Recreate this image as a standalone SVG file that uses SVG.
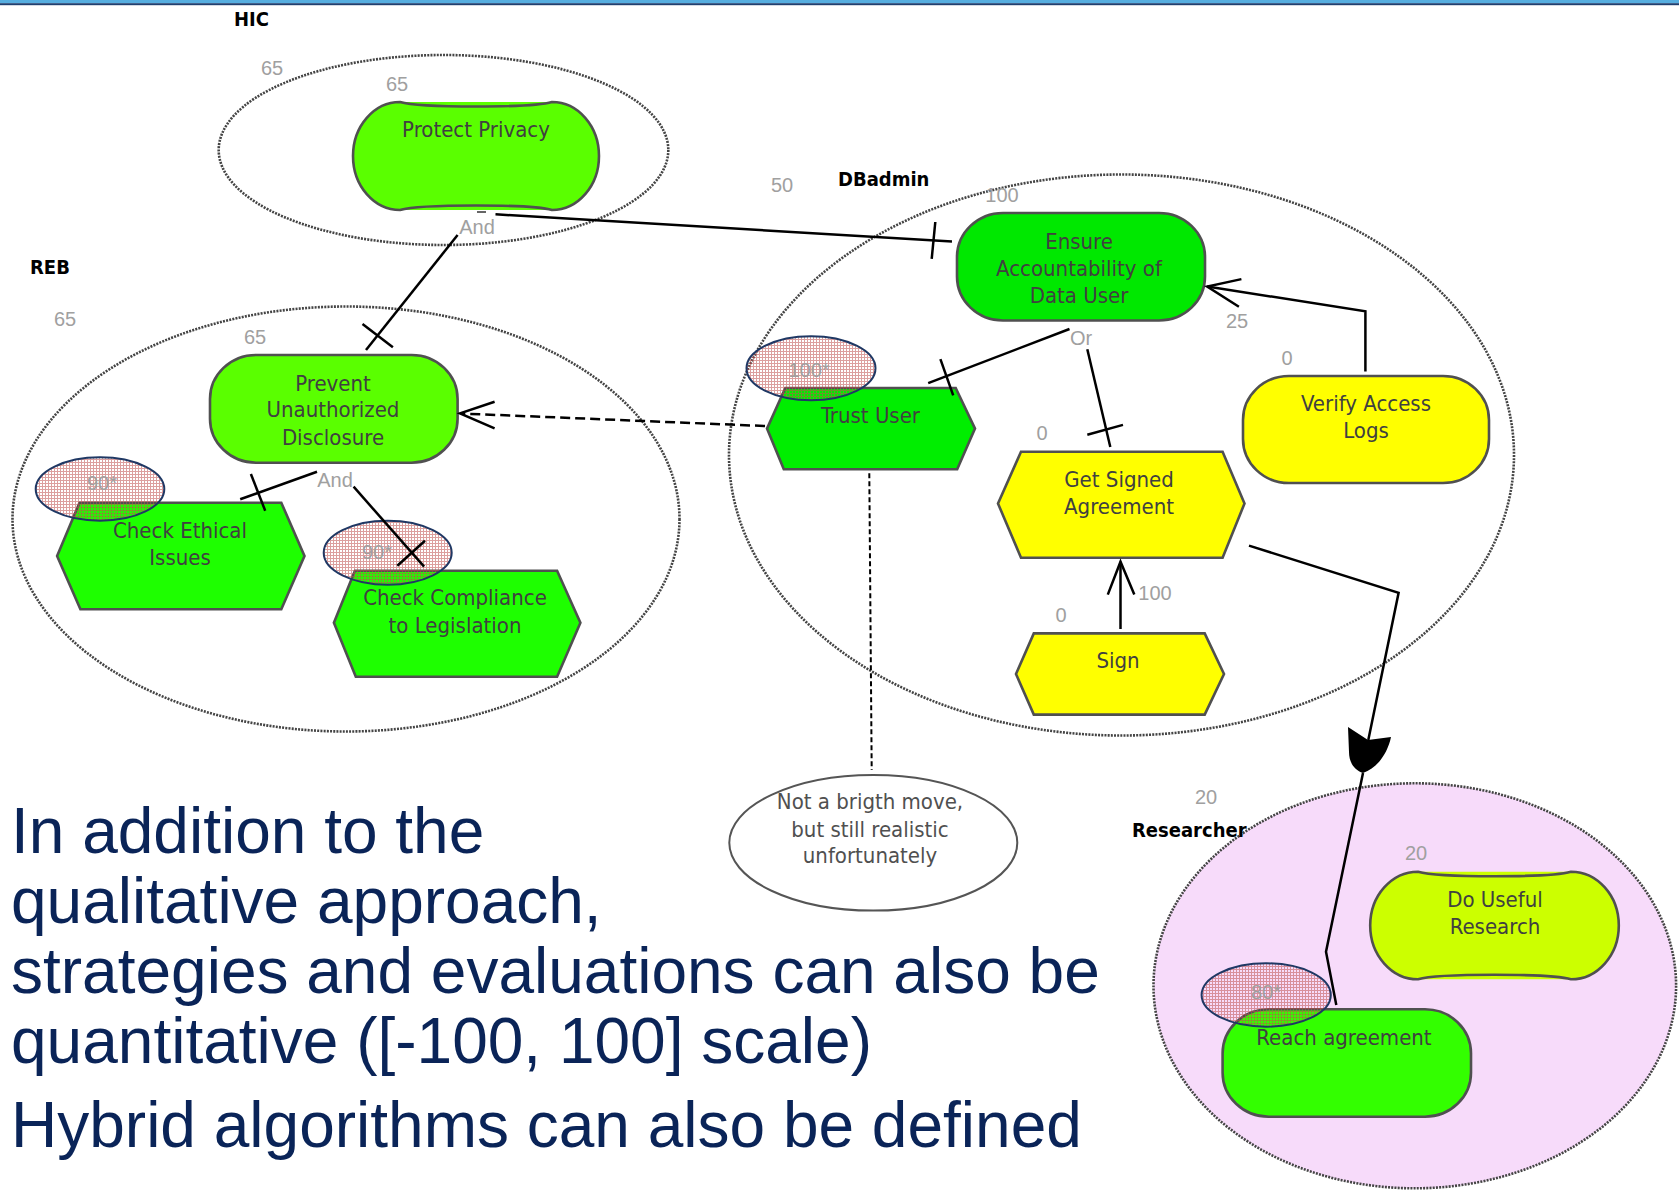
<svg xmlns="http://www.w3.org/2000/svg" width="1679" height="1191" viewBox="0 0 1679 1191">
<defs>
<style>
.num{font-family:'Liberation Sans',Arial,sans-serif;font-size:20px;fill:#a0a0a0;text-anchor:middle}
.lbl{font-family:'DejaVu Sans Condensed','Liberation Sans',Arial,sans-serif;font-stretch:condensed;font-size:22px;fill:#404040;text-anchor:middle}
.note{font-family:'DejaVu Sans Condensed','Liberation Sans',Arial,sans-serif;font-stretch:condensed;font-size:22px;fill:#505050;text-anchor:middle}
.actor{font-family:'DejaVu Sans Condensed','Liberation Sans',Arial,sans-serif;font-stretch:condensed;font-size:20px;font-weight:bold;fill:#000}
.big{font-family:'Liberation Sans',Arial,sans-serif;font-size:64px;fill:#0a2458}
.bound{fill:none;stroke:#444;stroke-width:2.6;stroke-dasharray:2 1.2}
.node{stroke:#505050;stroke-width:2.6}
.link{fill:none;stroke:#000;stroke-width:2.5}
.dash{fill:none;stroke:#000;stroke-width:2.5;stroke-dasharray:10 5}
.eval{fill:url(#hatch);stroke:#1f3864;stroke-width:2}
</style>
<pattern id="hatch" patternUnits="userSpaceOnUse" width="3" height="3">
<path d="M0,0.5H3M0.5,0V3" stroke="#c0504d" stroke-width="1" opacity="0.55"/>
</pattern>
</defs>
<rect x="0" y="0" width="1679" height="1191" fill="#fff"/>
<rect x="0" y="0" width="1679" height="3.2" fill="#56aee0"/>
<rect x="0" y="3.2" width="1679" height="2" fill="#1f3f70"/>

<g id="actors">
<g id="actor-hic">
<ellipse class="bound" cx="443.5" cy="150" rx="224.8" ry="95"/>
<text class="actor" x="234" y="26">HIC</text>
<text class="num" x="272" y="75">65</text>
</g>
<g id="actor-reb">
<ellipse class="bound" cx="346" cy="519" rx="333.5" ry="212.5"/>
<text class="actor" x="30" y="274">REB</text>
<text class="num" x="65" y="326">65</text>
</g>
<g id="actor-dbadmin">
<ellipse class="bound" cx="1121.5" cy="455" rx="392.5" ry="280.5"/>
<text class="actor" x="838" y="186">DBadmin</text>
<text class="num" x="782" y="192">50</text>
</g>
<g id="actor-researcher">
<ellipse class="bound" cx="1414.8" cy="985.8" rx="261.3" ry="202.5" style="fill:#f7dbfa"/>
<text class="actor" x="1132" y="837">Researcher</text>
<text class="num" x="1206" y="804">20</text>
</g>
</g>

<g id="n-protect-privacy">
<path d="M400,102 H552 A47,54 0 0 1 552,210 H400 A47,54 0 0 1 400,102 Z" fill="#5aff00"/>
<path class="node" fill="none" d="M400,102 C420,108 532,108 552,102 A47,54 0 0 1 552,210 C532,204 420,204 400,210 A47,54 0 0 1 400,102 Z"/>
<text class="lbl" x="476" y="137">Protect Privacy</text>
<text class="num" x="397" y="91">65</text>
<text class="num" x="477" y="234">And</text>
</g>

<g id="n-prevent">
<rect class="node" x="210" y="355" width="247.6" height="107.7" rx="46" ry="44" fill="#5aff00"/>
<text class="lbl" x="333" y="390.7">Prevent</text>
<text class="lbl" x="333" y="417.3">Unauthorized</text>
<text class="lbl" x="333" y="445">Disclosure</text>
<text class="num" x="255" y="344">65</text>
<text class="num" x="335" y="487">And</text>
</g>

<g id="n-check-ethical">
<polygon class="node" points="57.1,556 79.5,502.7 281.3,502.7 304.5,556 281.3,609.3 80.4,609.3" fill="#1eff00"/>
<text class="lbl" x="180" y="538.3">Check Ethical</text>
<text class="lbl" x="180" y="565">Issues</text>
<ellipse class="eval" cx="100" cy="489" rx="64.3" ry="31.7"/>
<text class="num" x="102" y="490">90*</text>
</g>

<g id="n-check-compliance">
<polygon class="node" points="333.9,622.7 354.9,570.7 557.1,570.7 580.4,622.7 557.1,676.7 355.8,676.7" fill="#1eff00"/>
<text class="lbl" x="455" y="605">Check Compliance</text>
<text class="lbl" x="455" y="632.7">to Legislation</text>
<ellipse class="eval" cx="387.7" cy="552.8" rx="64" ry="32"/>
<text class="num" x="377" y="559">90*</text>
</g>

<g id="n-ensure">
<rect class="node" x="957" y="213" width="248" height="107.5" rx="46" ry="44" fill="#00e800"/>
<text class="lbl" x="1079" y="249">Ensure</text>
<text class="lbl" x="1079" y="276">Accountability of</text>
<text class="lbl" x="1079" y="302.5">Data User</text>
<text class="num" x="1002" y="202">100</text>
<text class="num" x="1081" y="344.5">Or</text>
</g>

<g id="n-trust-user">
<polygon class="node" points="767,428.6 785.3,388 955.7,388 975,428.6 957.2,469.2 783.8,469.2" fill="#00ee00"/>
<text class="lbl" x="870.5" y="423">Trust User</text>
<ellipse class="eval" cx="811" cy="368.3" rx="64.5" ry="32"/>
<text class="num" x="809" y="376.6">100*</text>
</g>

<g id="n-get-signed">
<polygon class="node" points="998,503.5 1021,451.8 1222.6,451.8 1244.5,503.5 1222.6,557.7 1021,557.7" fill="#ffff00"/>
<text class="lbl" x="1119" y="486.5">Get Signed</text>
<text class="lbl" x="1119" y="513.5">Agreement</text>
<text class="num" x="1042" y="440.4">0</text>
</g>

<g id="n-verify">
<rect class="node" x="1243" y="376" width="246" height="107" rx="46" ry="44" fill="#ffff00"/>
<text class="lbl" x="1366" y="411">Verify Access</text>
<text class="lbl" x="1366" y="438">Logs</text>
<text class="num" x="1287" y="364.7">0</text>
<text class="num" x="1237" y="327.8">25</text>
</g>

<g id="n-sign">
<polygon class="node" points="1016,674 1033.8,633.4 1204.7,633.4 1224,674 1204.7,714.6 1033.8,714.6" fill="#ffff00"/>
<text class="lbl" x="1118" y="668">Sign</text>
<text class="num" x="1061" y="622">0</text>
<text class="num" x="1155" y="600">100</text>
</g>

<g id="n-do-useful">
<path d="M1418,871.7 H1571 A47.8,53.8 0 0 1 1571,979.3 H1418 A47.8,53.8 0 0 1 1418,871.7 Z" fill="#ccff00"/>
<path class="node" fill="none" d="M1418,871.7 C1438,877.7 1551,877.7 1571,871.7 A47.8,53.8 0 0 1 1571,979.3 C1551,973.3 1438,973.3 1418,979.3 A47.8,53.8 0 0 1 1418,871.7 Z"/>
<text class="lbl" x="1495" y="907.3">Do Useful</text>
<text class="lbl" x="1495" y="934.3">Research</text>
<text class="num" x="1416" y="860.3">20</text>
</g>

<g id="n-reach">
<rect class="node" x="1222.6" y="1009.3" width="248.4" height="107.4" rx="46" ry="44" fill="#33ff00"/>
<text class="lbl" x="1344" y="1045">Reach agreement</text>
<ellipse class="eval" cx="1266.2" cy="995" rx="64.6" ry="31.7"/>
<text class="num" x="1266" y="998.7">80*</text>
</g>

<g id="n-note">
<ellipse cx="873.3" cy="842.8" rx="144" ry="67.8" fill="#fff" stroke="#555" stroke-width="2"/>
<text class="note" x="870" y="809.3">Not a brigth move,</text>
<text class="note" x="870" y="836.7">but still realistic</text>
<text class="note" x="870" y="863.3">unfortunately</text>
</g>

<g id="connectors">
<line class="link" x1="495.5" y1="214.3" x2="952" y2="241.5"/>
<line class="link" x1="935.3" y1="222" x2="931.7" y2="258.9"/>
<line x1="477" y1="212" x2="486" y2="212" stroke="#333" stroke-width="1.5"/>
<line class="link" x1="457.6" y1="235" x2="366" y2="350"/>
<line class="link" x1="362.5" y1="324" x2="392.9" y2="347.3"/>
<line class="link" x1="317" y1="471.7" x2="240.2" y2="499.3"/>
<line class="link" x1="250.9" y1="474" x2="265.2" y2="510.7"/>
<line class="link" x1="353.6" y1="486.7" x2="424.1" y2="566.7"/>
<line class="link" x1="397.3" y1="565.7" x2="425" y2="540.7"/>
<path class="dash" d="M765,426 L461,413.5"/>
<path class="link" d="M494.6,401.7 L460,413.3 L494.6,428.3"/>
<line class="link" x1="1069.5" y1="329" x2="928.2" y2="383.2"/>
<line class="link" x1="940.4" y1="359.2" x2="953.2" y2="395.4"/>
<line class="link" x1="1087.3" y1="349.3" x2="1110.3" y2="447"/>
<line class="link" x1="1087.3" y1="434.8" x2="1123" y2="424.9"/>
<path class="link" d="M1365.4,371.4 V311.3 L1207.2,286.5"/>
<path class="link" d="M1241.4,279.1 L1207.2,286.5 L1238.9,306.8"/>
<line class="link" x1="1120.5" y1="629" x2="1120.5" y2="561.7"/>
<path class="link" d="M1107.8,594.6 L1120.5,561.7 L1134.3,594.6"/>
<path class="link" d="M1249,545.6 L1398.6,592.8 L1368.3,740"/>
<path d="M1348,727 L1368,740 L1391,737 C1388,752 1378,768 1363,773 C1354,770 1349,762 1349,752 Z" fill="#000"/>
<path class="link" d="M1363,773 L1326,951.7 L1336.3,1005"/>
<path d="M869.3,473.3 L871.7,770" fill="none" stroke="#000" stroke-width="2" stroke-dasharray="5 3"/>
</g>

<g id="caption">
<text class="big" x="11" y="853">In addition to the</text>
<text class="big" x="11" y="923">qualitative approach,</text>
<text class="big" x="11" y="993">strategies and evaluations can also be</text>
<text class="big" x="11" y="1063">quantitative ([-100, 100] scale)</text>
<text class="big" x="11" y="1147">Hybrid algorithms can also be defined</text>
</g>
</svg>
